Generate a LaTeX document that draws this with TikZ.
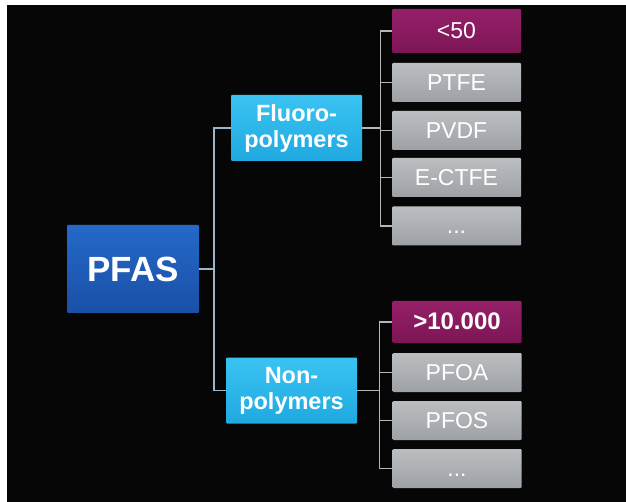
\documentclass[tikz,border=0pt]{standalone}
\usepackage{fontspec}
\setmainfont{Liberation Sans}

\definecolor{bgblack}{HTML}{060606}
\definecolor{roottop}{HTML}{2469C9}
\definecolor{rootbot}{HTML}{1A4FA6}
\definecolor{grouptop}{HTML}{3AC3F2}
\definecolor{groupbot}{HTML}{1FA9E0}
\definecolor{itemtop}{HTML}{BBBEC1}
\definecolor{itembot}{HTML}{9DA1A5}
\definecolor{counttop}{HTML}{961F68}
\definecolor{countbot}{HTML}{7C1655}
\definecolor{linkblue}{HTML}{9CB6C8}
\definecolor{linkgray}{HTML}{B4B6B8}

\begin{document}
\begin{tikzpicture}[x=1pt, y=-1pt,
		box/.style = {rectangle,
				rounded corners=1pt,
				text=white,
				inner sep=0pt},
		root/.style = {box,
				minimum width=132pt, minimum height=88pt,
				top color=roottop, bottom color=rootbot,
				font=\fontsize{35}{40}\selectfont\bfseries},
		group/.style = {box, align=center,
				minimum width=131pt, minimum height=66pt,
				top color=grouptop, bottom color=groupbot,
				font=\fontsize{23.5}{26}\selectfont\bfseries},
		item/.style = {box,
				minimum width=129pt, minimum height=39pt,
				text height=16pt, text depth=0pt,
				top color=itemtop, bottom color=itembot,
				font=\fontsize{23}{26}\selectfont},
		count/.style = {item,
				top color=counttop, bottom color=countbot},
		link/.style = {draw=linkblue, line width=1.6pt},
		bracket/.style = {draw=linkgray, line width=1.4pt}]

	% Background
	\fill[white] (0,0) rectangle (626,502);
	\fill[bgblack] (7,5) rectangle (626,502);

	% Root
	\node[root] (pfas) at (133,269) {PFAS};

	% Groups
	\node[group] (fluoro) at (296.5,128) {Fluoro-\\polymers};
	\node[group] (nonpoly) at (291.5,390.5) {Non-\\polymers};

	% Fluoropolymers
	\node[count, minimum height=44pt] (f1) at (456.5,31) {<50};
	\node[item] (f2) at (456.5,82.5) {PTFE};
	\node[item] (f3) at (456.5,130.5) {PVDF};
	\node[item] (f4) at (456.5,177.5) {E-CTFE};
	\node[item] (f5) at (456.5,226) {...};

	% Non-polymers
	\node[count, font=\fontsize{24}{26}\selectfont\bfseries, minimum height=42pt] (n1) at (457,322) {>10.000};
	\node[item] (n2) at (457,372.5) {PFOA};
	\node[item] (n3) at (457,420.5) {PFOS};
	\node[item] (n4) at (457,468.5) {...};

	% Links
	\draw[link] (pfas.east) -- ++(15,0) |- (fluoro.west);
	\draw[link] (pfas.east) -- ++(15,0) |- (nonpoly.west);

	\foreach \n in {f1,f2,f3,f4,f5}
		\draw[bracket] (fluoro.east) -- ++(18,0) |- (\n.west);
	\foreach \n in {n1,n2,n3,n4}
		\draw[bracket] (nonpoly.east) -- ++(22,0) |- (\n.west);

\end{tikzpicture}
\end{document}
